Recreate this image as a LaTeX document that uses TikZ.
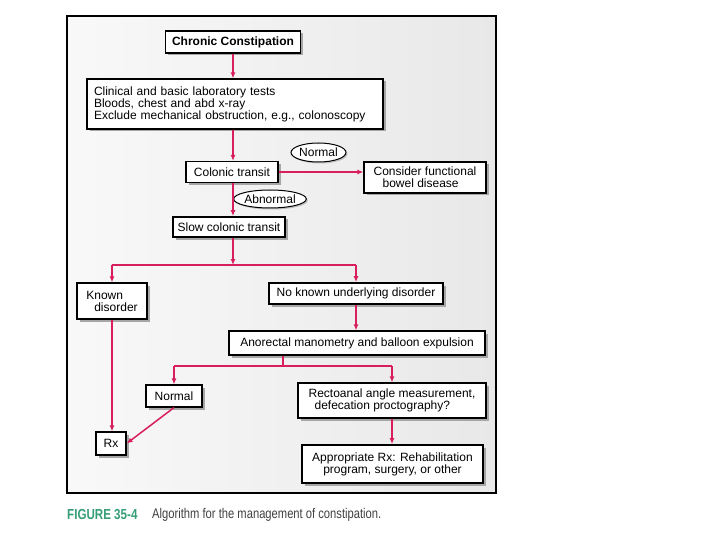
\documentclass[tikz,border=0pt]{standalone}
\usepackage{fontspec}
\setmainfont{Liberation Sans}
\newfontfamily\capfont[FakeStretch=0.8]{Liberation Sans}
\usepackage{xcolor}
\usetikzlibrary{positioning,shadows,arrows.meta,shapes.geometric}
\definecolor{flow}{RGB}{216,30,91}
\definecolor{figgreen}{RGB}{52,158,118}

\begin{document}
\begin{tikzpicture}
[x=1pt, y=-1pt,
box-a/.style={rectangle, draw, line width=1.2pt, fill=white, inner sep=0pt,
  drop shadow={shadow xshift=2.5pt, shadow yshift=-2.5pt, fill=gray!70, opacity=1},
  font=\fontsize{12}{12}\selectfont},
box-b/.style={box-a, line width=1.8pt},
tag-a/.style={ellipse, draw, line width=1pt, fill=white, inner sep=0pt,
  drop shadow={shadow xshift=1.5pt, shadow yshift=-1.5pt, fill=gray!50, opacity=1},
  font=\fontsize{12}{12}\selectfont},
link-a/.style={draw=flow, line width=1.5pt, -{Latex[length=6pt,width=5pt]}},
link-b/.style={draw=flow, line width=1.5pt},]
%\draw [dotted, step=20] (0,0) grid (720,540);
\fill [white] (0,0) rectangle (720,540);
\useasboundingbox (0,0) rectangle (720,540);
\draw [line width=2pt, left color=gray!5, right color=gray!18] (67,16) rectangle (496,493);
\node (chronic)     [box-b, minimum width=135pt, minimum height=22pt] at (233,42) {\bfseries Chronic Constipation};
\node (clinical)    [box-a, text width=282pt, inner xsep=7pt, minimum height=50pt, align=left] at (235,104)
  {Clinical and basic laboratory tests\\Bloods, chest and abd x-ray\\Exclude mechanical obstruction, e.g., colonoscopy};
\node (colonic)     [box-a, minimum width=92pt, minimum height=21pt] at (232,172) {Colonic transit};
\node (normal-1)    [tag-a, minimum width=55pt, minimum height=19pt] at (318.5,152.5) {Normal};
\node (consider)    [box-a, minimum width=122pt, minimum height=31pt, align=left] at (425,177.5)
  {Consider functional\\\hspace{9pt}bowel disease};
\node (abnormal)    [tag-a, minimum width=66pt, minimum height=18pt] at (270,199) {Abnormal};
\node (slow)        [box-b, minimum width=112pt, minimum height=20pt] at (229,227) {Slow colonic transit};
\node (known)       [box-a, minimum width=70pt, minimum height=36pt, align=left] at (112,301)
  {Known\\\hspace{8pt}disorder};
\node (noknown)     [box-b, minimum width=174pt, minimum height=21pt] at (356,293.5) {No known underlying disorder};
\node (anorectal)   [box-a, minimum width=256pt, minimum height=24pt] at (357,343) {Anorectal manometry and balloon expulsion};
\node (normal-2)    [box-a, minimum width=56pt, minimum height=22pt] at (174,396) {Normal};
\node (rectoanal)   [box-a, minimum width=188pt, minimum height=35pt, align=left] at (392,400.5)
  {Rectoanal angle measurement,\\\hspace{6pt}defecation proctography?};
\node (appropriate) [box-b, minimum width=181pt, minimum height=38pt, align=center] at (392.5,464)
  {Appropriate Rx: Rehabilitation\\program, surgery, or other};
\node (rx)          [box-a, minimum width=30pt, minimum height=23pt] at (111,443.5) {Rx};
\coordinate (split-1) at (233,265);
\coordinate (split-2) at (283,366);
\draw [link-a] (chronic.south) -- (chronic.south |- clinical.north);
\draw [link-a] (split-1 |- clinical.south) -- (split-1 |- colonic.north);
\draw [link-a] (colonic.east) -- (colonic.east -| consider.west);
\draw [link-a] (split-1 |- colonic.south) -- (split-1 |- slow.north);
\draw [link-a] (split-1 |- slow.south) -- (split-1);
\draw [link-b] (known.north |- split-1) -- (noknown.north |- split-1);
\draw [link-a] (known.north |- split-1) -- (known.north);
\draw [link-a] (noknown.north |- split-1) -- (noknown.north);
\draw [link-a] (noknown.south) -- (noknown.south |- anorectal.north);
\draw [link-b] (split-2 |- anorectal.south) -- (split-2);
\draw [link-b] (normal-2.north |- split-2) -- (rectoanal.north |- split-2);
\draw [link-a] (normal-2.north |- split-2) -- (normal-2.north);
\draw [link-a] (rectoanal.north |- split-2) -- (rectoanal.north);
\draw [link-a] (rectoanal.south) -- (rectoanal.south |- appropriate.north);
\draw [link-a] (known.south) -- (known.south |- rx.north);
\draw [link-a] (normal-2.south) -- (rx.east);
\node (fig-id)   [anchor=west, inner sep=0pt, text=figgreen, font=\capfont\bfseries\fontsize{14.5}{15}\selectfont] at (67,515) {FIGURE 35-4};
\node (fig-text) [anchor=west, inner sep=0pt, text=black!75, font=\capfont\fontsize{14}{15}\selectfont] at (152,515) {Algorithm for the management of constipation.};
\end{tikzpicture}
\end{document}
